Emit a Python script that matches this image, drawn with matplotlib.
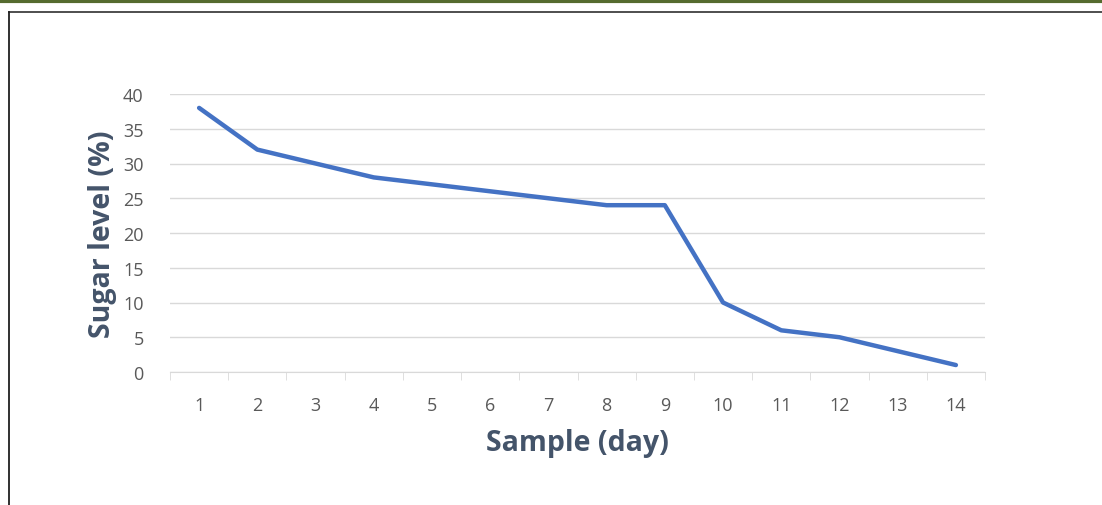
import matplotlib
matplotlib.use("Agg")
import matplotlib.pyplot as plt
from matplotlib.lines import Line2D

days = list(range(1, 15))
sugar = [38, 32, 30, 28, 27, 26, 25, 24, 24, 10, 6, 5, 3, 1]
yticks = [0, 5, 10, 15, 20, 25, 30, 35, 40]

W, H = 1102, 506
fig = plt.figure(figsize=(W / 100, H / 100), dpi=100)
fig.patch.set_facecolor("white")

# decorative frame
fig.add_artist(Line2D([0, 1], [1 - 2 / H, 1 - 2 / H], color="#556b2f", lw=3.0, transform=fig.transFigure))
fig.add_artist(Line2D([9 / W, 1], [1 - 12.5 / H, 1 - 12.5 / H], color="#404040", lw=1.3, transform=fig.transFigure))
fig.add_artist(Line2D([9 / W, 9 / W], [0, 1 - 12.5 / H], color="#202020", lw=1.3, transform=fig.transFigure))

ax = fig.add_axes([170 / W, 133 / H, 815 / W, 278 / H])
ax.plot(days, sugar, color="#4472c4", lw=3.2, solid_capstyle="round", solid_joinstyle="round", zorder=3)
ax.set_xlim(0.5, 14.5)
ax.set_ylim(0, 40)
ax.set_yticks(yticks)
ax.set_xticks(days)
ax.set_xticks([d + 0.5 for d in range(0, 15)], minor=True)
ax.grid(axis="y", color="#d9d9d9", lw=1)
for s in ["top", "right", "left"]:
    ax.spines[s].set_visible(False)
ax.spines["bottom"].set_color("#d9d9d9")
ax.tick_params(axis="y", length=0, pad=19, labelsize=13, labelcolor="#595959")
ax.tick_params(axis="x", which="major", length=0, pad=17, labelsize=13, labelcolor="#595959")
ax.tick_params(axis="x", which="minor", length=6, color="#d9d9d9")
for lab in ax.get_xticklabels() + ax.get_yticklabels():
    lab.set_family("Open Sans")
ax.set_xlabel("Sample (day)", fontsize=20.5, fontweight="bold", color="#44546a", family="Open Sans", labelpad=10)
ax.set_ylabel("Sugar level (%)", fontsize=20.5, fontweight="bold", color="#44546a", family="Open Sans", labelpad=4)

fig.savefig("out.png", dpi=100)
